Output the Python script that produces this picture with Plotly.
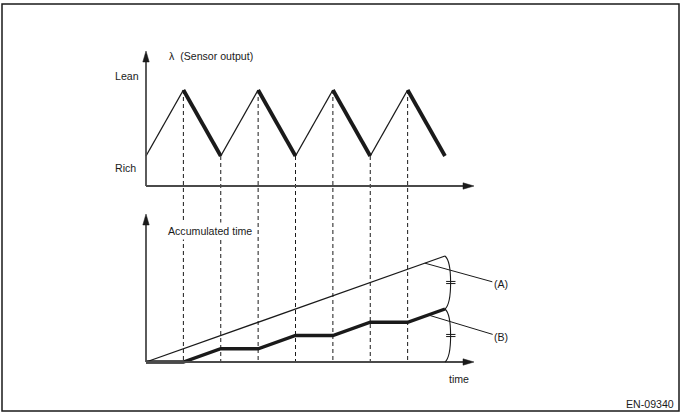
import numpy as np
import plotly.graph_objects as go

# ---------------- data ----------------
t = [0, 1, 2, 3, 4, 5, 6, 7, 8]            # time, in half-cycles of the sensor signal
sensor = [0, 1, 0, 1, 0, 1, 0, 1, 0]       # 0 = Rich, 1 = Lean
acc_A = [0, 1, 2, 3, 4, 5, 6, 7, 8]        # (A) accumulated total time
acc_B = [0, 0, 1, 1, 2, 2, 3, 3, 4]        # (B) accumulated time of lean->rich slopes
level_labels = ["Rich", "Lean"]
texts = {"sensor": "\u03bb  (Sensor output)", "acc": "Accumulated time",
         "time": "time", "A": "(A)", "B": "(B)", "code": "EN-09340"}

# ---------------- layout calibration ----------------
W, H = 683, 414
T0_PX, T_PX = 146, 37.375        # pixel x of t=0, pixels per half-cycle
LAM0_PX, LAM_PX = 156, 66        # pixel y of Rich, pixels per sensor unit
ACC0_PX, ACC_PX = 362, 13.25     # pixel y of accumulated 0, pixels per unit
INK = "#1a1a1a"
AXC = "#4a4a4a"
FONT = dict(family="Liberation Sans, Arial, sans-serif", size=10.6, color=INK)


def P(px, py):
    return px / W, 1 - py / H


def acc_to_lam(a):
    return (LAM0_PX - (ACC0_PX - a * ACC_PX)) / LAM_PX


fig = go.Figure()

# sensor signal: rising slopes thin, falling slopes thick
rx, ry, fx, fy = [], [], [], []
for i in range(len(t) - 1):
    if sensor[i + 1] > sensor[i]:
        rx += [t[i], t[i + 1], None]; ry += [sensor[i], sensor[i + 1], None]
    else:
        fx += [t[i], t[i + 1], None]; fy += [sensor[i], sensor[i + 1], None]
fig.add_trace(go.Scatter(x=rx, y=ry, mode="lines", line=dict(color=INK, width=1.3),
                         xaxis="x", yaxis="y", hoverinfo="skip"))
fig.add_trace(go.Scatter(x=fx, y=fy, mode="lines", line=dict(color=INK, width=3.8),
                         xaxis="x", yaxis="y", hoverinfo="skip"))

# accumulated time
fig.add_trace(go.Scatter(x=t, y=acc_A, mode="lines", line=dict(color=INK, width=1.3),
                         xaxis="x", yaxis="y2", hoverinfo="skip"))
fig.add_trace(go.Scatter(x=t, y=acc_B, mode="lines", line=dict(color=INK, width=3.4),
                         xaxis="x", yaxis="y2", hoverinfo="skip"))

shapes = []
# frame
x0, y0 = P(2, 4); x1, y1 = P(679, 411)
shapes.append(dict(type="rect", xref="paper", yref="paper", x0=x0, y0=y0, x1=x1, y1=y1,
                   line=dict(color=INK, width=1.5)))

# dashed verticals at each turning point
for i in range(1, len(t) - 1):
    shapes.append(dict(type="line", xref="x", yref="y", x0=t[i], x1=t[i],
                       y0=sensor[i], y1=acc_to_lam(0),
                       line=dict(color=INK, width=1, dash="4px,3px")))


# axes with arrows
def axis_pair(y_axis_px, top_px, right_px):
    out = []
    a = P(T0_PX, y_axis_px); b = P(T0_PX, top_px + 10); c = P(right_px - 10, y_axis_px)
    out.append(dict(type="line", xref="paper", yref="paper", x0=a[0], y0=a[1], x1=b[0], y1=b[1],
                    line=dict(color=AXC, width=1.8)))
    out.append(dict(type="line", xref="paper", yref="paper", x0=a[0], y0=a[1], x1=c[0], y1=c[1],
                    line=dict(color=AXC, width=1.8)))
    p1, p2, p3 = P(T0_PX - 3.2, top_px + 11), P(T0_PX + 3.2, top_px + 11), P(T0_PX, top_px)
    out.append(dict(type="path", xref="paper", yref="paper",
                    path=f"M {p1[0]},{p1[1]} L {p2[0]},{p2[1]} L {p3[0]},{p3[1]} Z",
                    fillcolor=INK, line=dict(color=INK, width=0.5)))
    q1, q2, q3 = P(right_px - 11, y_axis_px - 3.2), P(right_px - 11, y_axis_px + 3.2), P(right_px, y_axis_px)
    out.append(dict(type="path", xref="paper", yref="paper",
                    path=f"M {q1[0]},{q1[1]} L {q2[0]},{q2[1]} L {q3[0]},{q3[1]} Z",
                    fillcolor=INK, line=dict(color=INK, width=0.5)))
    return out


shapes += axis_pair(186, 51, 474)
shapes += axis_pair(ACC0_PX, 214, 474)

# braces between line ends
te = t[-1]
bulge = 0.2
for top, bot in [(acc_A[-1], acc_B[-1]), (acc_B[-1], 0)]:
    span = top - bot
    shapes.append(dict(type="path", xref="x", yref="y2",
                       path=f"M {te},{top} C {te + bulge},{top - 0.12 * span} "
                            f"{te + bulge},{bot + 0.12 * span} {te},{bot}",
                       line=dict(color=INK, width=1.1)))
    mid = (top + bot) / 2
    for d in (-0.08, 0.08):
        shapes.append(dict(type="line", xref="x", yref="y2", x0=te + 0.03, x1=te + 0.28,
                           y0=mid + d, y1=mid + d, line=dict(color=INK, width=1)))

annotations = []


def label(txt, px, py, xanchor="left", bg=None):
    x, y = P(px, py)
    d = dict(text=txt, x=x, y=y, xref="paper", yref="paper", showarrow=False,
             xanchor=xanchor, yanchor="middle", font=FONT)
    if bg:
        d.update(bgcolor=bg, borderpad=2)
    annotations.append(d)


label(texts["sensor"], 167, 56)
label(level_labels[1], 113, 76)
label(level_labels[0], 113, 168)
label(texts["acc"], 165, 231, bg="white")
label(texts["time"], 447, 379)
label(texts["code"], 676, 404, xanchor="right")

# leader lines to (A) and (B)
tA = 7.46
tB = 7.55
for tt, arr, txt, ax, ay in [(tA, acc_A, texts["A"], 76, 21), (tB, acc_B, texts["B"], 73, 22)]:
    annotations.append(dict(text=txt, x=tt, y=float(np.interp(tt, t, arr)), xref="x", yref="y2",
                            showarrow=True, arrowhead=0, arrowwidth=1, arrowcolor=INK,
                            ax=ax, ay=ay, axref="pixel", ayref="pixel", standoff=0,
                            xanchor="center", font=FONT))

fig.update_layout(
    width=W, height=H, margin=dict(l=0, r=0, t=0, b=0),
    paper_bgcolor="white", plot_bgcolor="white", showlegend=False,
    xaxis=dict(range=[-T0_PX / T_PX, (W - T0_PX) / T_PX], domain=[0, 1], visible=False,
               fixedrange=True),
    yaxis=dict(range=[(LAM0_PX - H) / LAM_PX, LAM0_PX / LAM_PX], domain=[0, 1], visible=False,
               fixedrange=True),
    yaxis2=dict(range=[(ACC0_PX - H) / ACC_PX, ACC0_PX / ACC_PX], overlaying="y", visible=False,
                fixedrange=True),
    shapes=shapes, annotations=annotations,
)

fig.write_html("out.html")
